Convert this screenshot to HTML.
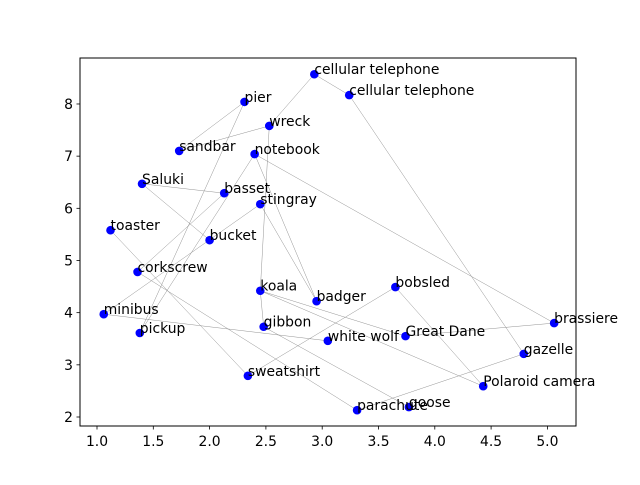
<!DOCTYPE html>
<html><head><meta charset="utf-8"><style>
body{margin:0;background:#fff}
svg text{font-family:"DejaVu Sans","Liberation Sans",sans-serif}
</style></head><body>
<svg id="chart" width="640" height="480" xmlns="http://www.w3.org/2000/svg">
<rect width="640" height="480" fill="#fff"/>
<g id="edges"></g>
<g id="points"></g>
<g id="labels"></g>
<rect x="80" y="58" width="496" height="368" fill="none" stroke="#000" stroke-width="1"/>
<g id="xaxis"></g>
<g id="yaxis"></g>
</svg>
<script>
const names=["cellular telephone","cellular telephone","pier","wreck","sandbar","notebook","Saluki","basset","stingray","toaster","bucket","corkscrew","koala","badger","bobsled","minibus","pickup","gibbon","white wolf","Great Dane","brassiere","gazelle","Polaroid camera","sweatshirt","parachute","goose"];
const xs=[2.93,3.24,2.31,2.53,1.73,2.40,1.40,2.13,2.45,1.12,2.00,1.36,2.45,2.95,3.65,1.06,1.38,2.48,3.05,3.74,5.06,4.79,4.43,2.34,3.31,3.77];
const ys=[8.57,8.17,8.04,7.58,7.10,7.04,6.47,6.29,6.08,5.58,5.39,4.78,4.42,4.22,4.49,3.97,3.61,3.73,3.46,3.55,3.80,3.21,2.59,2.79,2.13,2.19];
const edgeFrom=[0,1,0,3,3,4,2,5,5,5,8,6,6,7,8,9,11,12,12,12,15,17,23,14,19,24];
const edgeTo=[1,21,3,4,12,2,16,16,13,20,13,7,10,11,15,23,24,17,19,22,18,25,14,22,20,21];
const xTicks=[1.0,1.5,2.0,2.5,3.0,3.5,4.0,4.5,5.0];
const yTicks=[2,3,4,5,6,7,8];
const NS="http://www.w3.org/2000/svg";
function X(v){return 97+(v-1)*112.6;}
function Y(v){return 417-(v-2)*52.17;}
function mk(t,a,p){const e=document.createElementNS(NS,t);for(const k in a)e.setAttribute(k,a[k]);p.appendChild(e);return e;}
const ge=document.getElementById('edges'),gp=document.getElementById('points'),gl=document.getElementById('labels');
for(let i=0;i<edgeFrom.length;i++){const a=edgeFrom[i],b=edgeTo[i];
 const l=mk('line',{x1:X(xs[a]),y1:Y(ys[a]),x2:X(xs[b]),y2:Y(ys[b]),stroke:'#888','stroke-width':0.5,'stroke-opacity':0.9},ge);
 
 }
for(let i=0;i<names.length;i++){
 const c=mk('circle',{cx:X(xs[i]),cy:Y(ys[i]),r:4.3,fill:'#0000ff'},gp);
 
 
 const t=mk('text',{x:X(xs[i]),y:Y(ys[i]),'font-size':'13.9',fill:'#000'},gl);
 t.textContent=names[i];
 
 }
const gx=document.getElementById('xaxis'),gy=document.getElementById('yaxis');
xTicks.forEach(v=>{mk('line',{x1:X(v),y1:426,x2:X(v),y2:429.5,stroke:'#000','stroke-width':0.8},gx);
 const t=mk('text',{x:X(v),y:446,'font-size':'13.9','text-anchor':'middle',fill:'#000'},gx);t.textContent=v.toFixed(1);
 
 });
yTicks.forEach(v=>{mk('line',{x1:76.5,y1:Y(v),x2:80,y2:Y(v),stroke:'#000','stroke-width':0.8},gy);
 const t=mk('text',{x:73,y:Y(v)+5,'font-size':'13.9','text-anchor':'end',fill:'#000'},gy);t.textContent=v;
 
 });
</script>
</body></html>
